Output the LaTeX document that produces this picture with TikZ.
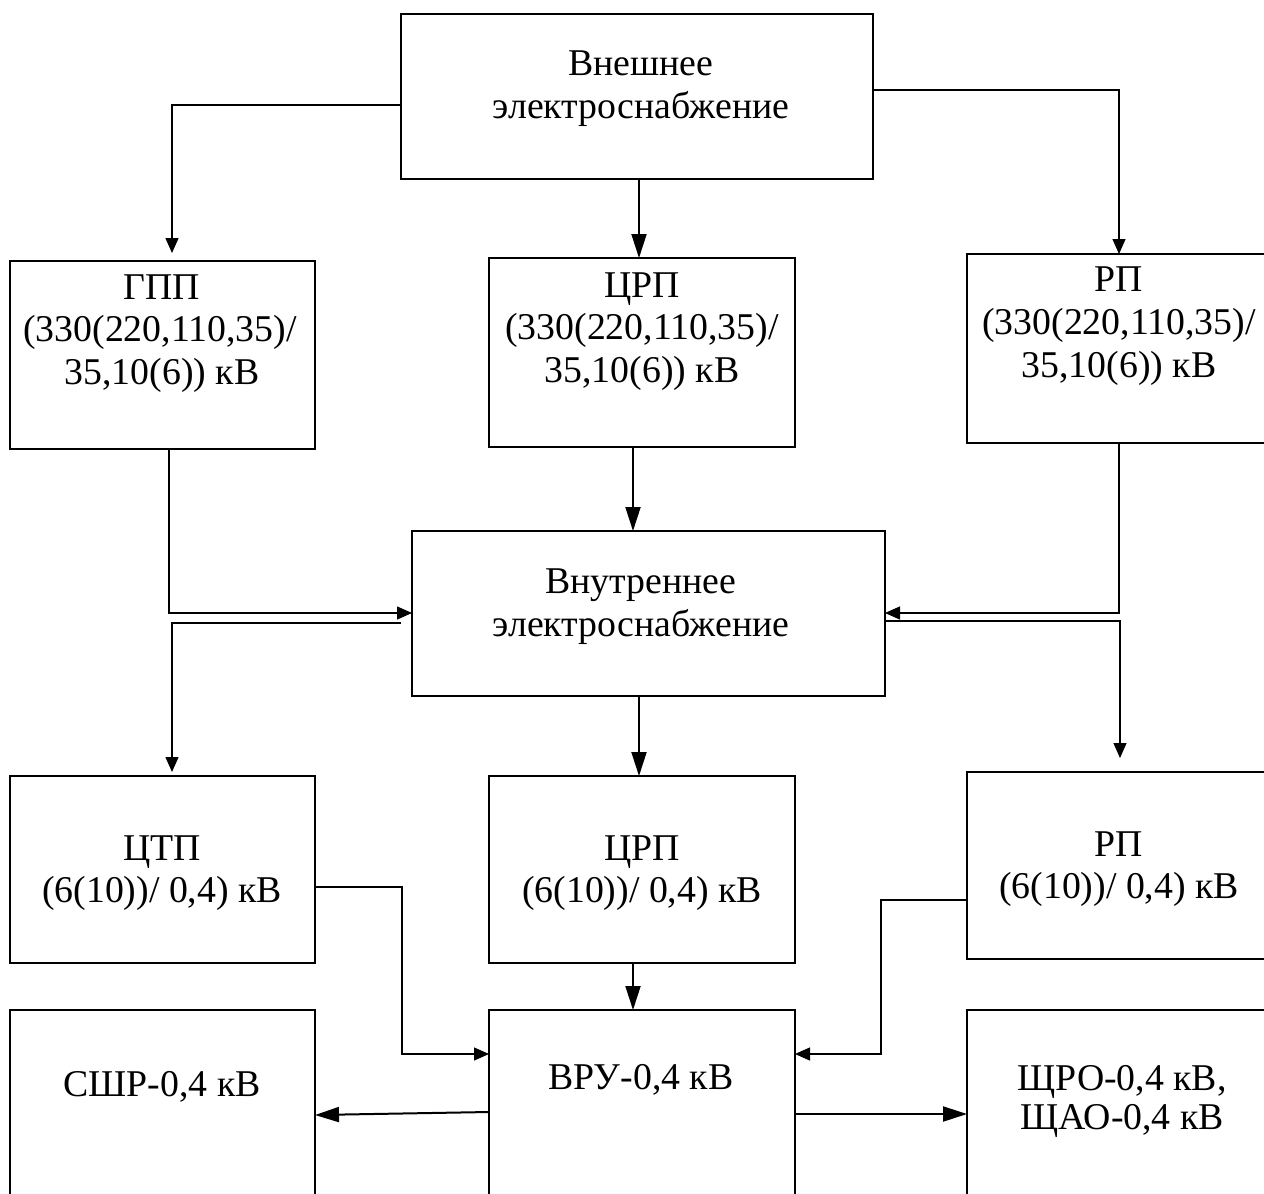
\documentclass[tikz,border=0pt]{standalone}
\usepackage{fontspec}
\setmainfont{Liberation Serif}
\usetikzlibrary{arrows.meta}
\begin{document}
\begin{tikzpicture}[x=1pt,y=-1pt,
  box/.style={draw=black, line width=2.6pt, fill=none, inner sep=0pt, outer sep=0pt, anchor=north west},
  txt/.style={anchor=base, inner sep=0pt, font=\fontsize{37.8}{44}\selectfont},
  thinarr/.style={draw=black, line width=1.3pt, -{Triangle[length=15pt,width=13pt]}},
  thickarr/.style={draw=black, line width=2pt, -{Triangle[length=24pt,width=15pt]}}]
\clip (0,0) rectangle (1264,1194);
\fill[white] (0,0) rectangle (1264,1194);
% boxes
\node[box, minimum width=472pt, minimum height=165pt] (top) at (401,14) {};
\node[box, minimum width=305pt, minimum height=188pt] (gpp) at (10,261) {};
\node[box, minimum width=306pt, minimum height=189pt] (crp1) at (489,258) {};
\node[box, minimum width=300pt, minimum height=189pt] (rp1) at (967,254) {};
\node[box, minimum width=473pt, minimum height=165pt] (inner) at (412,531) {};
\node[box, minimum width=305pt, minimum height=187pt] (ctp) at (10,776) {};
\node[box, minimum width=306pt, minimum height=187pt] (crp2) at (489,776) {};
\node[box, minimum width=300pt, minimum height=187pt] (rp2) at (967,772) {};
\node[box, minimum width=305pt, minimum height=220pt] (shr) at (10,1010) {};
\node[box, minimum width=306pt, minimum height=220pt] (vru) at (489,1010) {};
\node[box, minimum width=300pt, minimum height=220pt] (shro) at (967,1010) {};
% texts
\node[txt] (t1a) at (641,75) {Внешнее};
\node[txt] (t1b) at (641,118) {электроснабжение};
\node[txt] (t2a) at (162,299) {ГПП};
\node[txt] (t2b) at (160,341) {(330(220,110,35)/};
\node[txt] (t2c) at (162,384) {35,10(6)) кВ};
\node[txt] (t3a) at (642,297) {ЦРП};
\node[txt] (t3b) at (642,339) {(330(220,110,35)/};
\node[txt] (t3c) at (642,382) {35,10(6)) кВ};
\node[txt] (t4a) at (1119,291) {РП};
\node[txt] (t4b) at (1119,334) {(330(220,110,35)/};
\node[txt] (t4c) at (1119,377) {35,10(6)) кВ};
\node[txt] (t5a) at (641,593) {Внутреннее};
\node[txt] (t5b) at (641,636) {электроснабжение};
\node[txt] (t6a) at (162,860) {ЦТП};
\node[txt] (t6b) at (162,902) {(6(10))/ 0,4) кВ};
\node[txt] (t7a) at (642,860) {ЦРП};
\node[txt] (t7b) at (642,902) {(6(10))/ 0,4) кВ};
\node[txt] (t8a) at (1119,856) {РП};
\node[txt] (t8b) at (1119,898) {(6(10))/ 0,4) кВ};
\node[txt] (t9) at (162,1096) {СШР-0,4 кВ};
\node[txt] (t10) at (641,1089) {ВРУ-0,4 кВ};
\node[txt] (t11a) at (1122,1090) {ЩРО-0,4 кВ,};
\node[txt] (t11b) at (1122,1129) {ЩАО-0,4 кВ};
% lane coordinates
\coordinate (k1) at (172,105);
\coordinate (k2) at (639,0);
\coordinate (k3) at (1119,90);
\coordinate (k4) at (169,613);
\coordinate (k5) at (172,623);
\coordinate (k6) at (633,0);
\coordinate (k7) at (1119,613);
\coordinate (k8) at (1120,621);
\coordinate (k10) at (402,887);
\coordinate (ky) at (0,1054);
\coordinate (k12) at (881,900);
\coordinate (k13a) at (0,1112);
\coordinate (k13b) at (0,1115);
\coordinate (k14) at (0,1114);
% connectors
\draw[thinarr, shorten >=8pt] (top.west |- k1) -| (k1 |- gpp.north);
\draw[thickarr] (top.south -| k2) -- (crp1.north -| k2);
\draw[thinarr] (top.east |- k3) -| (k3 |- rp1.north);
\draw[thinarr] (gpp.south -| k4) |- (k4 -| inner.west);
\draw[thinarr, shorten <=11pt, shorten >=4pt] (inner.west |- k5) -| (k5 |- ctp.north);
\draw[thickarr] (crp1.south -| k6) -- (inner.north -| k6);
\draw[thinarr] (rp1.south -| k7) |- (k7 -| inner.east);
\draw[thinarr, shorten >=14pt] (inner.east |- k8) -| (k8 |- rp2.north);
\draw[thickarr] (inner.south -| k2) -- (crp2.north -| k2);
\draw[thinarr] (ctp.east |- k10) -- (k10) |- (ky -| vru.west);
\draw[thickarr] (crp2.south -| k6) -- (vru.north -| k6);
\draw[thinarr] (rp2.west |- k12) -- (k12) |- (ky -| vru.east);
\draw[thickarr] (vru.west |- k13a) -- (shr.east |- k13b);
\draw[thickarr] (vru.east |- k14) -- (shro.west |- k14);
\end{tikzpicture}
\end{document}
